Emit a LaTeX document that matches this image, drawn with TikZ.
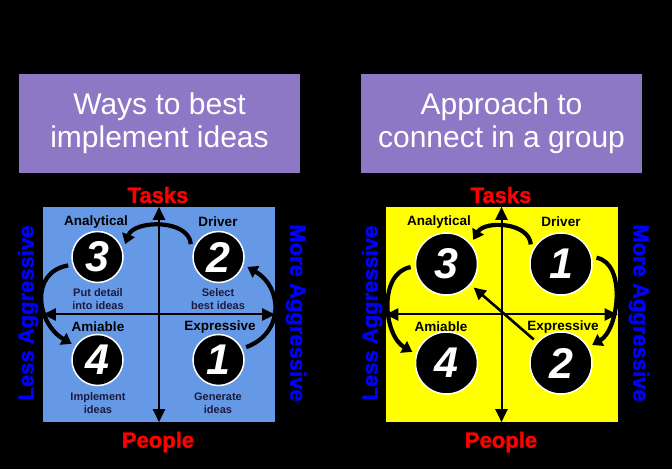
\documentclass[tikz,border=0pt]{standalone}
\usepackage{fontspec}
\setmainfont{Liberation Sans}
\newfontfamily\heavyfont[FakeBold=1.5]{Liberation Sans}
\usetikzlibrary{arrows.meta,positioning}
\definecolor{hdPurple}{HTML}{8C78C5}
\definecolor{hdBlue}{HTML}{6699E5}
\definecolor{hdYellow}{HTML}{FFFF00}
\definecolor{hdRed}{HTML}{FF0000}
\definecolor{hdSide}{HTML}{0000FF}
\definecolor{hdNavy}{HTML}{1A1A40}

\begin{document}
\begin{tikzpicture}[x=1pt, y=1pt,
    title/.style={fill=hdPurple, text=white, align=center, inner sep=0pt,
      font=\fontsize{30}{33}\selectfont, minimum width=281pt, minimum height=99pt},
    quad/.style={inner sep=0pt, minimum width=232pt, minimum height=215pt},
    num/.style={circle, fill=black, draw=white, line width=1.5pt, text=white,
      inner sep=0pt, outer sep=5pt, font=\fontsize{43}{43}\selectfont\bfseries\itshape},
    numS/.style={num, minimum size=51pt},
    numL/.style={num, minimum size=62pt},
    role/.style={font=\fontsize{13.5}{14}\selectfont\bfseries},
    note/.style={font=\fontsize{11}{13}\selectfont\bfseries, text=hdNavy, align=center},
    pole/.style={font=\fontsize{22}{22}\heavyfont\bfseries, text=hdRed},
    side/.style={font=\fontsize{22}{22}\heavyfont\bfseries, text=hdSide},
    axis/.style={{Triangle[length=13pt,width=12pt]}-{Triangle[length=13pt,width=12pt]}, line width=2pt},
    swing/.style={-{Triangle[length=10pt,width=13pt]}, line width=4.2pt},
    link/.style={-{Triangle[length=12pt,width=12pt]}, line width=2.6pt}]

  % backdrop
  \fill[black] (0,0) rectangle (672,469);

  % left panel: ways to implement
  \node[title] (hdA) at (159.5,345.5) {Ways to best\\implement ideas};
  \node[quad, fill=hdBlue] (sqA) at (159,154.5) {};
  \draw[axis] (sqA.south) -- (sqA.north);
  \draw[axis] (sqA.west) -- (sqA.east);
  \node[pole] (tasksA) at (158,274) {Tasks};
  \node[pole] (peopleA) at (158,27) {People};
  \node[side, rotate=90] (lessA) at (28,156) {Less Aggressive};
  \node[side, rotate=-90] (moreA) at (296,156) {More Aggressive};

  \node[numS] (a3) at (97.5,212) {3};
  \node[numS] (a2) at (218.5,212) {2};
  \node[numS] (a4) at (97.5,109) {4};
  \node[numS] (a1) at (218.5,109) {1};
  \node[role] (analA) at (96,247) {Analytical};
  \node[role] (drivA) at (218,247) {Driver};
  \node[role] (amiA) at (98,142) {Amiable};
  \node[role] (expA) at (220,142) {Expressive};
  \node[note] (n3) at (98,169.5) {Put detail\\into ideas};
  \node[note] (n2) at (218,169.5) {Select\\best ideas};
  \node[note] (n4) at (98,66) {Implement\\ideas};
  \node[note] (n1) at (218,66) {Generate\\ideas};

  \draw[swing] (a2.155) to[out=95, in=70] (a3.25);
  \draw[swing] (a3.196) to[out=190, in=150, looseness=1.3] (a4.148);
  \draw[swing] (a1.25) to[out=20, in=-30, looseness=1.3] (a2.341);

  % right panel: connecting in a group
  \node[title] (hdB) at (501.5,345.5) {Approach to\\connect in a group};
  \node[quad, fill=hdYellow] (sqB) at (501.5,154.5) {};
  \draw[axis] (sqB.south) -- (sqB.north);
  \draw[axis] (sqB.west) -- (sqB.east);
  \node[pole] (tasksB) at (501,274) {Tasks};
  \node[pole] (peopleB) at (501,27) {People};
  \node[side, rotate=90] (lessB) at (372,156) {Less Aggressive};
  \node[side, rotate=-90] (moreB) at (639,156) {More Aggressive};

  \node[numL] (b3) at (446.5,205) {3};
  \node[numL] (b1) at (561,205) {1};
  \node[numL] (b4) at (446.5,106) {4};
  \node[numL] (b2) at (561,106) {2};
  \node[role] (analB) at (439,247) {Analytical};
  \node[role] (drivB) at (561,247) {Driver};
  \node[role] (amiB) at (441,142) {Amiable};
  \node[role] (expB) at (563,142) {Expressive};

  \draw[swing] (b1.147) to[out=95, in=60] (b3.42);
  \draw[swing] (b3.185) to[out=190, in=150] (b4.162);
  \draw[swing] (b1.10) to[out=-10, in=30, looseness=0.9] (b2.30);
  \draw[link] (b2) -- (b3);
\end{tikzpicture}
\end{document}
